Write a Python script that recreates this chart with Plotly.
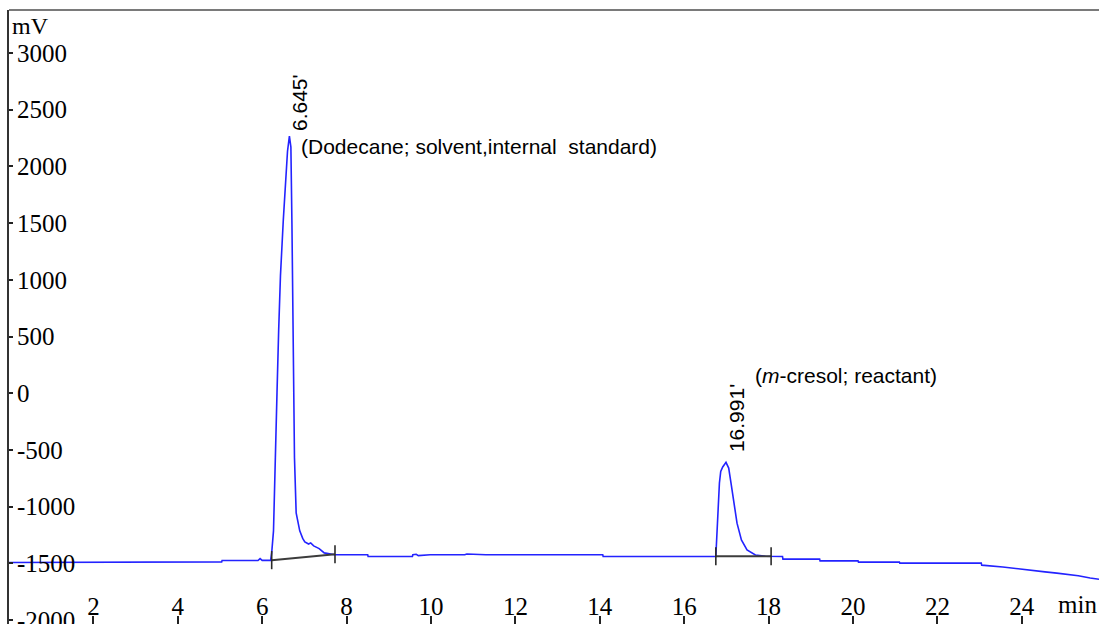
import plotly.graph_objects as go

# ---- chromatogram trace (time in min, signal in mV) ----
time_min = [
    0.00, 3.93, 3.94, 5.04, 5.05, 5.90, 5.95, 6.00, 6.20,
    6.225, 6.268, 6.308, 6.351, 6.391, 6.433, 6.500, 6.556, 6.600, 6.645,
    6.680, 6.705, 6.740, 6.765, 6.805, 6.890, 6.960, 7.010, 7.100, 7.150,
    7.220, 7.350, 7.470, 7.720, 8.500, 8.510, 9.560, 9.570, 9.650, 9.700,
    9.980, 10.020, 10.800, 10.850, 11.300, 14.070, 14.080, 16.750,
    16.778, 16.802, 16.835, 16.866, 16.913, 16.991, 17.055, 17.110, 17.174,
    17.252, 17.356, 17.489, 17.688, 17.925, 18.330, 18.340, 19.210, 19.220,
    20.120, 20.130, 21.100, 21.110, 23.040, 23.050, 23.550, 23.910, 24.230,
    24.550, 24.830, 25.060, 25.340, 25.620, 25.830,
]
signal_mv = [
    -1493, -1493, -1487, -1487, -1475, -1475, -1458, -1474, -1474,
    -1408, -1214, -728, 5, 562, 1039, 1525, 1852, 2134, 2267,
    2170, 1489, 394, -569, -1055, -1214, -1280, -1311, -1330, -1320,
    -1346, -1370, -1408, -1425, -1425, -1440, -1440, -1425, -1420, -1432,
    -1425, -1425, -1425, -1418, -1425, -1425, -1440, -1440,
    -1234, -969, -792, -690, -650, -610, -660, -792, -969,
    -1146, -1293, -1382, -1426, -1438, -1440, -1463, -1463, -1478,
    -1478, -1489, -1489, -1498, -1498, -1516, -1533, -1546, -1557,
    -1575, -1586, -1595, -1610, -1630, -1640,
]

# ---- peaks ----
peak_times = [6.645, 16.991]
peak_apex_mv = [2267, -616]
peak_labels = ["6.645'", "16.991'"]
compound_labels = ["(Dodecane; solvent,internal\u00a0 standard)",
                   "(<i>m</i>-cresol; reactant)"]

# ---- integration baselines (start / end of each peak) ----
integ_t0 = [6.225, 16.75]
integ_v0 = [-1472, -1438]
integ_t1 = [7.725, 18.06]
integ_v1 = [-1420, -1438]

# ---- axis ticks ----
x_ticks = [2, 4, 6, 8, 10, 12, 14, 16, 18, 20, 22, 24]
y_ticks = [-2000, -1500, -1000, -500, 0, 500, 1000, 1500, 2000, 2500, 3000]
y_tick_text = ["-2000", "-1500", "-1000", "-500", "0", "500", "1000",
               "1500", "2000", "2500", "3000"]

fig = go.Figure()

fig.add_trace(go.Scatter(x=time_min, y=signal_mv, mode="lines",
                         line=dict(color="#2323ff", width=1.6),
                         hoverinfo="skip", showlegend=False))

bx, by = [], []
for a, b, c, d in zip(integ_t0, integ_v0, integ_t1, integ_v1):
    bx += [a, c, None]
    by += [b, d, None]
fig.add_trace(go.Scatter(x=bx, y=by, mode="lines",
                         line=dict(color="#3c3c3c", width=2),
                         hoverinfo="skip", showlegend=False))

tx, ty = [], []
half = 80
for t, v in list(zip(integ_t0, integ_v0)) + list(zip(integ_t1, integ_v1)):
    tx += [t, t, None]
    ty += [v - half, v + half, None]
fig.add_trace(go.Scatter(x=tx, y=ty, mode="lines",
                         line=dict(color="#2a2a2a", width=1.6),
                         hoverinfo="skip", showlegend=False))

serif = "Liberation Serif, Times New Roman, serif"
sans = "Liberation Sans, Arial, sans-serif"

annotations = []
label_shift = [(10, 3), (10, 9)]
comp_shift = [(10, -10), (27, 88)]
for i, (t, v) in enumerate(zip(peak_times, peak_apex_mv)):
    annotations.append(dict(x=t, y=v, xref="x", yref="y", text=peak_labels[i],
                            textangle=-90, showarrow=False,
                            xanchor="center", yanchor="bottom",
                            xshift=label_shift[i][0], yshift=label_shift[i][1],
                            font=dict(family=sans, size=21, color="#000")))
    annotations.append(dict(x=t, y=v, xref="x", yref="y", text=compound_labels[i],
                            showarrow=False, xanchor="left", yanchor="middle",
                            xshift=comp_shift[i][0], yshift=comp_shift[i][1],
                            font=dict(family=sans, size=21, color="#000")))

annotations.append(dict(x=0, y=1, xref="paper", yref="paper", text="mV",
                        showarrow=False, xanchor="left", yanchor="top",
                        xshift=2, yshift=-2, borderpad=0,
                        font=dict(family=serif, size=24, color="#000")))
annotations.append(dict(x=1, y=0, xref="paper", yref="paper", text="min",
                        showarrow=False, xanchor="right", yanchor="bottom",
                        xshift=0, yshift=4,
                        font=dict(family=serif, size=25, color="#000")))

fig.update_layout(
    width=1099, height=624,
    margin=dict(l=9, r=0, t=10, b=0, autoexpand=False),
    paper_bgcolor="white", plot_bgcolor="white",
    showlegend=False,
    annotations=annotations,
    shapes=[dict(type="line", xref="paper", yref="paper", x0=0, x1=1, y0=1, y1=1,
                 line=dict(color="#7a7a7a", width=2))],
    xaxis=dict(range=[0, 25.83], tickvals=x_ticks, ticks="inside", ticklen=8,
               tickwidth=1.5, tickcolor="#222", ticklabelposition="inside",
               ticklabeloverflow="allow", automargin=False, ticklabelstandoff=-2,
               tickfont=dict(family=serif, size=25, color="#000"),
               showgrid=False, zeroline=False, showline=False),
    yaxis=dict(range=[-2035, 3379], tickvals=y_ticks, ticktext=y_tick_text,
               ticks="inside", ticklen=4,
               tickwidth=1.5, tickcolor="#222", ticklabelposition="inside",
               ticklabeloverflow="allow", automargin=False, ticklabelstandoff=6,
               tickfont=dict(family=serif, size=25, color="#000"),
               showgrid=False, zeroline=False, showline=True,
               linecolor="#333", linewidth=2),
)

fig.write_html(
    "out.html",
    config={"displayModeBar": False},
    post_script="document.body.style.margin='0';document.body.style.overflow='hidden';",
)
